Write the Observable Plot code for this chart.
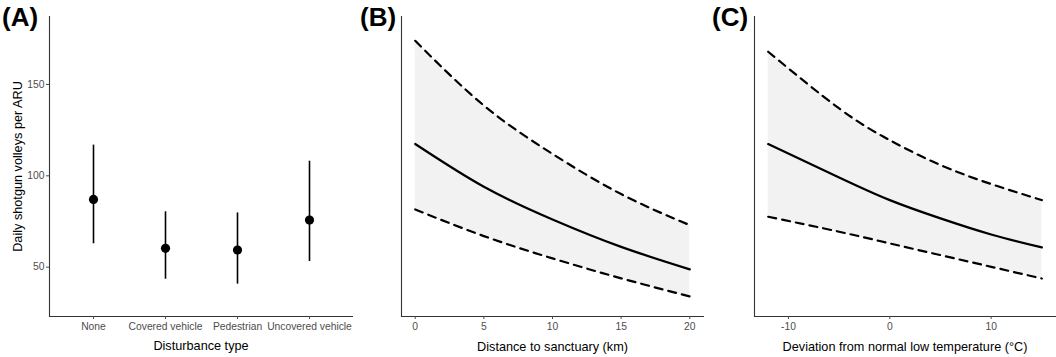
<!DOCTYPE html>
<html><head><meta charset="utf-8">
<script src="https://cdn.jsdelivr.net/npm/d3@7"></script>
<script src="https://cdn.jsdelivr.net/npm/@observablehq/plot@0.6"></script>
<style>
body{margin:0;background:#fff;}
#wrap{position:relative;width:1056px;height:357px;overflow:hidden;}
.tag{position:absolute;font:bold 26px "Liberation Sans",Arial,sans-serif;line-height:1;color:#000;}
</style>
</head><body><div id="wrap"></div>
<script>
// Panel A: disturbance type
const categories = ["None", "Covered vehicle", "Pedestrian", "Uncovered vehicle"];
const catMean = [87.1, 60.3, 59.4, 75.8];
const catLow = [62.8, 43.4, 40.7, 53.1];
const catHigh = [116.8, 80.3, 79.7, 108.0];
// Panel B: distance to sanctuary
const distKm = [0, 5, 10, 15, 20];
const distMean = [117.4, 94.0, 76.1, 61.1, 48.8];
const distLow = [81.6, 67.0, 54.8, 43.9, 34.0];
const distHigh = [173.9, 138.5, 112.0, 90.0, 73.0];
// Panel C: deviation from normal low temperature
const tempDev = [-12, -5, 0, 5, 10, 15];
const tempMean = [117.4, 99.1, 86.7, 76.7, 67.9, 60.8];
const tempLow = [77.6, 69.4, 63.0, 56.6, 50.2, 43.8];
const tempHigh = [167.9, 136.9, 119.5, 105.9, 95.5, 86.7];
const yTicks = [50, 100, 150];
const distTicks = [0, 5, 10, 15, 20];
const tempTicks = [-10, 0, 10];

const yDomain = [23, 187.2];
const font = '"Liberation Sans", Arial, sans-serif';
const tickColor = "#4d4d4d";
const axisStroke = "#333";
const tickFont = 10.3;
const titleFont = 12.7;

const wrap = document.getElementById("wrap");
function mount(el, left) {
  el.style.position = "absolute";
  el.style.left = left + "px";
  el.style.top = "0px";
  wrap.appendChild(el);
}
function tag(txt, left, top) {
  const d = document.createElement("div");
  d.className = "tag"; d.textContent = txt;
  d.style.left = left + "px"; d.style.top = top + "px";
  wrap.appendChild(d);
}
const style = {fontFamily: font, fontSize: "10px", background: "transparent", overflow: "visible"};

// Panel A
const tableA = categories.map((c, i) => ({cat: c, mean: catMean[i], low: catLow[i], high: catHigh[i]}));
const pA = Plot.plot({
  width: 355, height: 357,
  marginLeft: 49, marginRight: 3, marginTop: 16, marginBottom: 41,
  style,
  x: {type: "point", domain: categories, padding: 0.6, axis: null},
  y: {domain: yDomain, axis: null},
  marks: [
    Plot.frame({anchor: "left", stroke: axisStroke, strokeWidth: 1.1}),
    Plot.frame({anchor: "bottom", stroke: axisStroke, strokeWidth: 1.1}),
    Plot.axisX({tickSize: 3, tickPadding: 3, label: null, color: tickColor, fontSize: tickFont}),
    Plot.axisY(yTicks, {tickSize: 3, tickPadding: 2, label: null, color: tickColor, fontSize: tickFont}),
    Plot.ruleX(tableA, {x: "cat", y1: "low", y2: "high", stroke: "#000", strokeWidth: 1.6}),
    Plot.dot(tableA, {x: "cat", y: "mean", r: 4.6, fill: "#000", stroke: "none"}),
    Plot.text(["Disturbance type"], {frameAnchor: "bottom", dy: 33, text: d => d, fontSize: titleFont, fill: "#000"}),
    Plot.text(["Daily shotgun volleys per ARU"], {frameAnchor: "left", textAnchor: "middle", dx: -32, rotate: -90, text: d => d, fontSize: titleFont, fill: "#000"})
  ]
});
mount(pA, 0);

function curvePanel(xs, mean, low, high, ticks, xDomain, label, w, mL, mR) {
  const t = xs.map((x, i) => ({x, mean: mean[i], low: low[i], high: high[i]}));
  return Plot.plot({
    width: w, height: 357,
    marginLeft: mL, marginRight: mR, marginTop: 16, marginBottom: 41,
    style,
    x: {domain: xDomain, axis: null},
    y: {domain: yDomain, axis: null},
    marks: [
      Plot.areaY(t, {x: "x", y1: "low", y2: "high", fill: "#f2f2f2", curve: "natural"}),
      Plot.line(t, {x: "x", y: "high", stroke: "#000", strokeWidth: 2.2, strokeDasharray: "8,6", curve: "natural"}),
      Plot.line(t, {x: "x", y: "low", stroke: "#000", strokeWidth: 2.2, strokeDasharray: "8,6", curve: "natural"}),
      Plot.line(t, {x: "x", y: "mean", stroke: "#000", strokeWidth: 2.2, curve: "natural"}),
      Plot.frame({anchor: "left", stroke: axisStroke, strokeWidth: 1.1}),
      Plot.frame({anchor: "bottom", stroke: axisStroke, strokeWidth: 1.1}),
      Plot.axisX(ticks, {tickSize: 3, tickPadding: 3, label: null, color: tickColor, fontSize: tickFont, tickFormat: d => d < 0 ? "-" + Math.abs(d) : String(d)}),
      Plot.text([label], {frameAnchor: "bottom", dy: 34, text: d => d, fontSize: titleFont, fill: "#000"})
    ]
  });
}
mount(curvePanel(distKm, distMean, distLow, distHigh, distTicks, [-1, 21], "Distance to sanctuary (km)", 350, 46, 2), 355);
mount(curvePanel(tempDev, tempMean, tempLow, tempHigh, tempTicks, [-13.35, 16.35], "Deviation from normal low temperature (°C)", 351, 49, 1), 705);

tag("(A)", 2, 4);
tag("(B)", 360, 4);
tag("(C)", 712, 4);
</script>
</body></html>
